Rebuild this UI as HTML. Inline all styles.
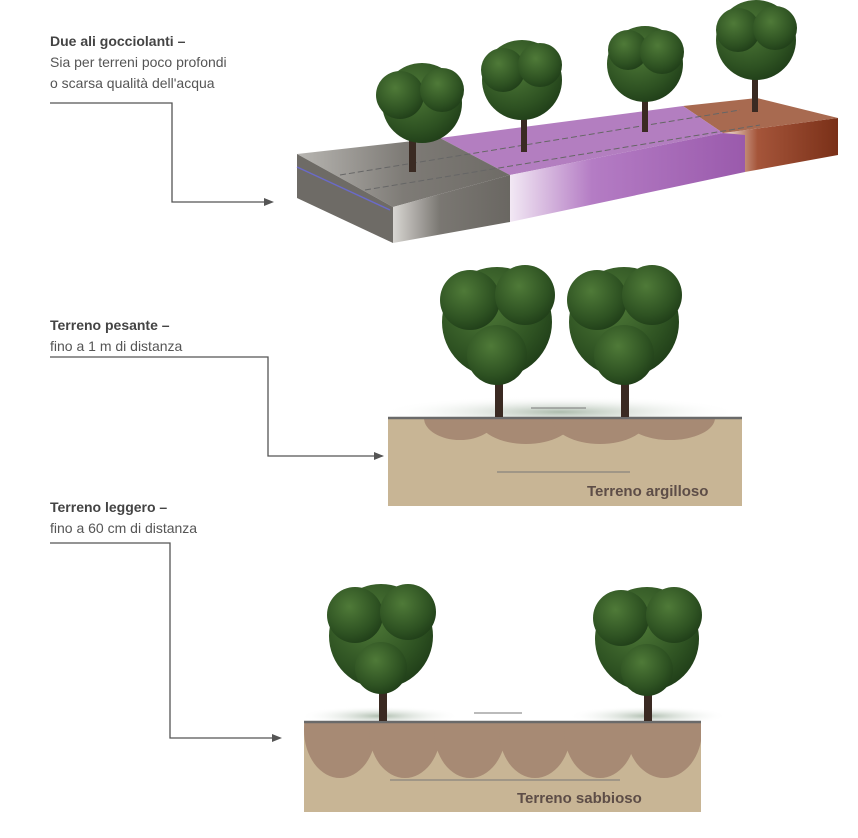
<!DOCTYPE html>
<html><head><meta charset="utf-8"><style>
html,body{margin:0;padding:0;background:#fff;}
svg{display:block;font-family:"Liberation Sans",sans-serif;}
</style></head><body>
<svg width="858" height="838" viewBox="0 0 858 838" xmlns="http://www.w3.org/2000/svg">
<defs>
<linearGradient id="pg" x1="0" x2="1" y1="0" y2="0"><stop offset="0" stop-color="#f2e8f4"/><stop offset="0.35" stop-color="#b47cc4"/><stop offset="1" stop-color="#9a5aac"/></linearGradient>
<linearGradient id="bg" x1="0" x2="1" y1="0" y2="0"><stop offset="0" stop-color="#f4e6dc"/><stop offset="0.3" stop-color="#a5553a"/><stop offset="1" stop-color="#7a3018"/></linearGradient>
<linearGradient id="gg" x1="0" x2="1" y1="0" y2="0"><stop offset="0" stop-color="#d8d6d2"/><stop offset="0.4" stop-color="#7a7772"/><stop offset="1" stop-color="#6a6762"/></linearGradient>
<linearGradient id="gt" x1="0" x2="1" y1="0" y2="0"><stop offset="0" stop-color="#b8b6b2"/><stop offset="0.5" stop-color="#7e7b76"/><stop offset="1" stop-color="#6e6b66"/></linearGradient>
<radialGradient id="tree" cx="0.4" cy="0.35" r="0.7"><stop offset="0" stop-color="#4f7a38"/><stop offset="0.7" stop-color="#2e5222"/><stop offset="1" stop-color="#1f3d18"/></radialGradient>
<radialGradient id="sh" cx="0.5" cy="0.5" r="0.5"><stop offset="0" stop-color="#8aa08a" stop-opacity="0.7"/><stop offset="1" stop-color="#fff" stop-opacity="0"/></radialGradient>
<clipPath id="c1"><rect x="388" y="418" width="354" height="88"/></clipPath>
<clipPath id="c2"><rect x="304" y="722" width="397" height="90"/></clipPath>
</defs>

<g fill="#555" font-size="14">
<text x="50" y="46" font-weight="bold" fill="#444">Due ali gocciolanti –</text>
<text x="50" y="67">Sia per terreni poco profondi</text>
<text x="50" y="88">o scarsa qualità dell'acqua</text>
<text x="50" y="330" font-weight="bold" fill="#444">Terreno pesante –</text>
<text x="50" y="351">fino a 1 m di distanza</text>
<text x="50" y="512" font-weight="bold" fill="#444">Terreno leggero –</text>
<text x="50" y="533">fino a 60 cm di distanza</text>
</g>
<g stroke="#555" stroke-width="1.3" fill="none">
<polyline points="50,103 172,103 172,202 266,202"/>
<polyline points="50,357 268,357 268,456 376,456"/>
<polyline points="50,543 170,543 170,738 274,738"/>
</g>
<g fill="#555">
<polygon points="274,202 264,198 264,206"/>
<polygon points="384,456 374,452 374,460"/>
<polygon points="282,738 272,734 272,742"/>
</g>

<polygon points="723,133 838,118 838,155 745,172" fill="url(#bg)"/>
<polygon points="683,106 757,98 838,118 723,133" fill="#a86a50"/>
<polygon points="440,138 683,106 723,133 510,175" fill="#b37ec0"/>
<polygon points="510,175 723,133 745,135 745,172 510,222" fill="url(#pg)"/>
<polygon points="297,154 440,138 510,175 393,207" fill="url(#gt)"/>
<polygon points="297,154 393,207 393,243 297,198" fill="#6e6b66"/>
<polygon points="393,207 510,175 510,222 393,243" fill="url(#gg)"/>
<line x1="297" y1="167" x2="390" y2="210" stroke="#6a6ac8" stroke-width="1.5"/>
<g stroke="#666" stroke-width="1" stroke-dasharray="6,3" fill="none">
<line x1="340" y1="175" x2="740" y2="110"/>
<line x1="365" y1="190" x2="760" y2="125"/>
</g>

<g fill="#3a2a22">
<rect x="409" y="120" width="7" height="52"/><rect x="521" y="100" width="6" height="52"/>
<rect x="642" y="85" width="6" height="47"/><rect x="752" y="60" width="6" height="52"/>
</g>
<g fill="url(#tree)">
<circle cx="422" cy="103" r="40"/><circle cx="400" cy="95" r="24"/><circle cx="442" cy="90" r="22"/>
<circle cx="522" cy="80" r="40"/><circle cx="503" cy="70" r="22"/><circle cx="540" cy="65" r="22"/>
<circle cx="645" cy="64" r="38"/><circle cx="628" cy="50" r="20"/><circle cx="662" cy="52" r="22"/>
<circle cx="756" cy="40" r="40"/><circle cx="738" cy="30" r="22"/><circle cx="775" cy="28" r="22"/>
</g>

<ellipse cx="560" cy="412" rx="180" ry="16" fill="url(#sh)"/>
<rect x="388" y="418" width="354" height="88" fill="#c8b595"/>
<g fill="#a78a74" clip-path="url(#c1)">
<ellipse cx="460" cy="418" rx="36" ry="22"/><ellipse cx="526" cy="418" rx="48" ry="26"/>
<ellipse cx="600" cy="418" rx="48" ry="26"/><ellipse cx="670" cy="418" rx="45" ry="22"/>
</g>
<line x1="388" y1="418" x2="742" y2="418" stroke="#6a6a6a" stroke-width="2.5"/>
<g stroke="#777" stroke-width="1" fill="none"><line x1="497" y1="472" x2="630" y2="472"/><line x1="531" y1="408" x2="586" y2="408"/></g>
<text x="587" y="496" font-size="15" font-weight="bold" fill="#5d4d47">Terreno argilloso</text>
<g fill="#3a2a22"><rect x="495" y="360" width="8" height="57"/><rect x="621" y="360" width="8" height="57"/></g>
<g fill="url(#tree)">
<circle cx="497" cy="322" r="55"/><circle cx="470" cy="300" r="30"/><circle cx="525" cy="295" r="30"/><circle cx="497" cy="355" r="30"/>
<circle cx="624" cy="322" r="55"/><circle cx="597" cy="300" r="30"/><circle cx="652" cy="295" r="30"/><circle cx="624" cy="355" r="30"/>
</g>

<ellipse cx="380" cy="716" rx="80" ry="10" fill="url(#sh)"/>
<ellipse cx="648" cy="716" rx="80" ry="10" fill="url(#sh)"/>
<rect x="304" y="722" width="397" height="90" fill="#c8b595"/>
<g fill="#a78a74" clip-path="url(#c2)">
<ellipse cx="340" cy="730" rx="36" ry="48"/><ellipse cx="405" cy="730" rx="36" ry="48"/>
<ellipse cx="470" cy="730" rx="36" ry="48"/><ellipse cx="535" cy="730" rx="36" ry="48"/>
<ellipse cx="600" cy="730" rx="36" ry="48"/><ellipse cx="664" cy="730" rx="38" ry="48"/>
</g>
<line x1="304" y1="722" x2="701" y2="722" stroke="#6a6a6a" stroke-width="2.5"/>
<g stroke="#777" stroke-width="1" fill="none"><line x1="390" y1="780" x2="620" y2="780"/><line x1="474" y1="713" x2="522" y2="713"/></g>
<text x="517" y="803" font-size="15" font-weight="bold" fill="#5d4d47">Terreno sabbioso</text>
<g fill="#3a2a22"><rect x="379" y="665" width="8" height="56"/><rect x="644" y="665" width="8" height="56"/></g>
<g fill="url(#tree)">
<circle cx="381" cy="636" r="52"/><circle cx="355" cy="615" r="28"/><circle cx="408" cy="612" r="28"/><circle cx="381" cy="668" r="26"/>
<circle cx="647" cy="639" r="52"/><circle cx="621" cy="618" r="28"/><circle cx="674" cy="615" r="28"/><circle cx="647" cy="670" r="26"/>
</g>
</svg>
</body></html>
